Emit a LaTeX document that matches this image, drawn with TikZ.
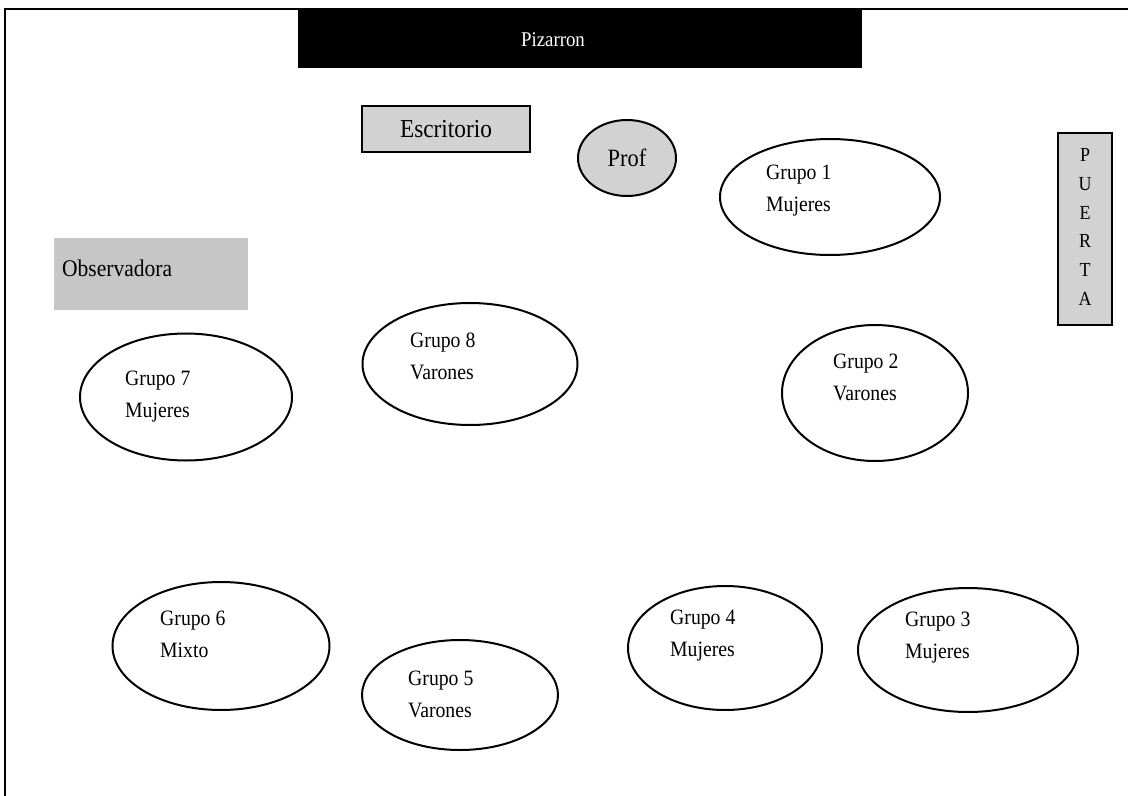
\documentclass[tikz,border=0pt]{standalone}
\usepackage{fontspec}
\setmainfont{Liberation Serif}[FakeStretch=0.9]
\usetikzlibrary{shapes.geometric}
\begin{document}
\begin{tikzpicture}[x=1bp,y=-1bp,
  grp/.style={draw,line width=2bp,ellipse,inner sep=0pt},
  lbl/.style={anchor=west,align=left,font=\fontsize{22}{32}\selectfont,inner sep=0pt},
  grayfill/.style={fill=gray!35},
]
\useasboundingbox (0,0) rectangle (1128,796);
\coordinate (fa) at (5,800);
\coordinate (fb) at (5,9);
\coordinate (fc) at (1130,9);
\draw[line width=2.5bp] (fa) -- (fb) -- (fc);
% Pizarron
\node[fill=black,minimum width=564bp,minimum height=58bp,inner sep=0pt] (piz) at (580,39) {};
\node[text=white,font=\fontsize{21}{24}\selectfont,inner sep=0pt] (pizt) at (553,40) {Pizarron};
% Escritorio
\node[draw,line width=2bp,grayfill,minimum width=168bp,minimum height=46bp,inner sep=0pt,font=\fontsize{26}{30}\selectfont] (esc) at (446,129) {Escritorio};
% Prof
\node[draw,line width=2bp,grayfill,ellipse,minimum width=98bp,minimum height=76bp,inner sep=0pt,font=\fontsize{25}{28}\selectfont] (prof) at (627,158) {Prof};
% Puerta
\node[draw,line width=2bp,grayfill,minimum width=54bp,minimum height=192bp,inner sep=0pt] (pue) at (1085,229) {};
\node[font=\fontsize{20}{29}\selectfont,align=center,inner sep=0pt] (puet) at (1085,227) {P\\U\\E\\R\\T\\A};
% Observadora
\node[fill=gray!45,minimum width=193bp,minimum height=72bp,inner sep=0pt] (obs) at (151,274) {};
\node[anchor=west,font=\fontsize{24}{28}\selectfont,inner sep=0pt] (obst) at (62,268) {Observadora};
% Groups
\node[grp,minimum width=220bp,minimum height=116bp] (g1) at (830,197) {};
\node[lbl] (t1) at (766,191) {Grupo 1\\Mujeres};
\node[grp,minimum width=186bp,minimum height=136bp] (g2) at (875,393) {};
\node[lbl] (t2) at (833,377) {Grupo 2\\Varones};
\node[grp,minimum width=220bp,minimum height=124bp] (g3) at (968,650) {};
\node[lbl] (t3) at (905,638) {Grupo 3\\Mujeres};
\node[grp,minimum width=194bp,minimum height=124bp] (g4) at (725,648) {};
\node[lbl] (t4) at (670,636) {Grupo 4\\Mujeres};
\node[grp,minimum width=196bp,minimum height=110bp] (g5) at (460,695) {};
\node[lbl] (t5) at (408,694) {Grupo 5\\Varones};
\node[grp,minimum width=217bp,minimum height=128bp] (g6) at (221,646) {};
\node[lbl] (t6) at (160,634) {Grupo 6\\Mixto};
\node[grp,minimum width=212bp,minimum height=127bp] (g7) at (186,397) {};
\node[lbl] (t7) at (125,397) {Grupo 7\\Mujeres};
\node[grp,minimum width=215bp,minimum height=122bp] (g8) at (470,364) {};
\node[lbl] (t8) at (410,356) {Grupo 8\\Varones};
\end{tikzpicture}
\end{document}
